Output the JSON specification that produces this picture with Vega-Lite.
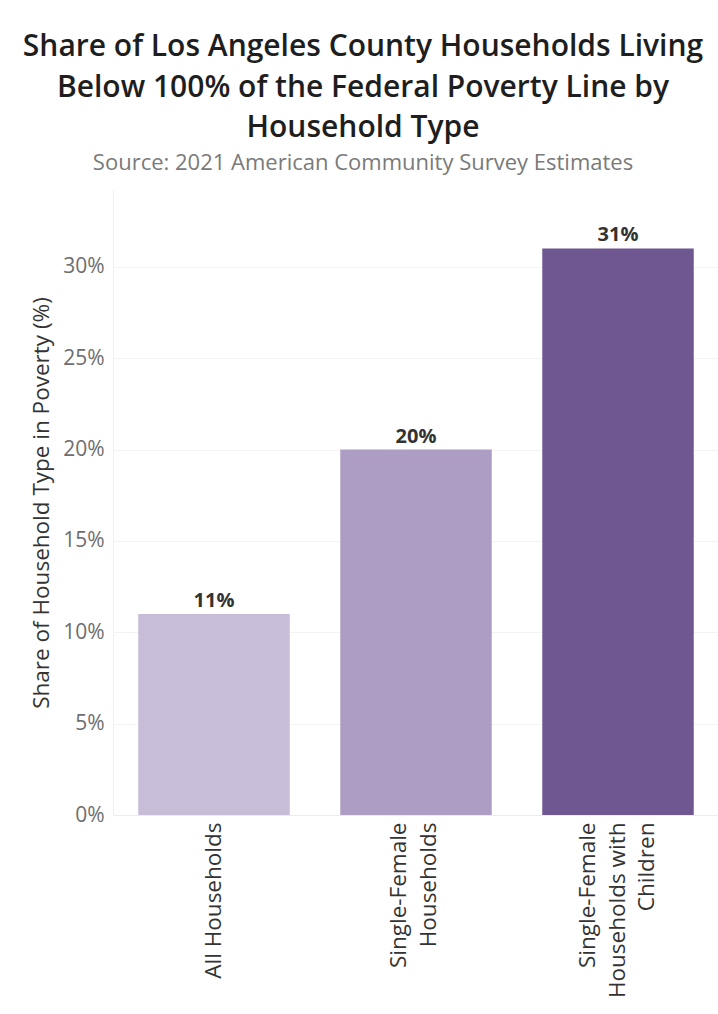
{
  "$schema": "https://vega.github.io/schema/vega-lite/v6.json",
  "autosize": {"type": "none"},
  "padding": {"left": 113, "top": 190, "right": 0, "bottom": 199},
  "width": 606,
  "height": 625,
  "background": "white",
  "title": {
    "text": ["Share of Los Angeles County Households Living", "Below 100% of the Federal Poverty Line by", "Household Type"],
    "subtitle": "Source: 2021 American Community Survey Estimates",
    "anchor": "middle",
    "frame": "group",
    "dx": -53,
    "offset": 16,
    "font": "Open Sans",
    "fontSize": 30,
    "fontWeight": 600,
    "lineHeight": 40.5,
    "color": "#1e1e1e",
    "subtitleFont": "Open Sans",
    "subtitleFontSize": 22,
    "subtitleColor": "#7a7a7a",
    "subtitlePadding": 10
  },
  "data": {
    "values": [
      {"type": "All Households", "share": 0.11},
      {"type": "Single-Female|Households", "share": 0.20},
      {"type": "Single-Female|Households with|Children", "share": 0.31}
    ]
  },
  "encoding": {
    "x": {
      "field": "type",
      "type": "nominal",
      "sort": null,
      "scale": {"paddingInner": 0.25, "paddingOuter": 0.125},
      "axis": {
        "title": null,
        "labelAngle": -90,
        "labelAlign": "right",
        "labelBaseline": "middle",
        "labelExpr": "split(datum.label, '|')",
        "labelFont": "Open Sans",
        "labelFontSize": 22.5,
        "labelLineHeight": 29.5,
        "labelColor": "#333333",
        "labelPadding": 7,
        "labelOffset": {
          "condition": [
            {"test": "datum.value === 'Single-Female|Households'", "value": -17},
            {"test": "datum.value === 'Single-Female|Households with|Children'", "value": -30}
          ],
          "value": 0
        },
        "ticks": false,
        "domain": true,
        "domainColor": "#ececec",
        "grid": false
      }
    },
    "y": {
      "field": "share",
      "type": "quantitative",
      "scale": {"domain": [0, 0.342], "nice": false},
      "axis": {
        "title": "Share of Household Type in Poverty (%)",
        "titleFont": "Open Sans",
        "titleFontSize": 22.5,
        "titleFontWeight": "normal",
        "titleColor": "#333333",
        "titlePadding": 9,
        "format": ".0%",
        "values": [0, 0.05, 0.1, 0.15, 0.2, 0.25, 0.3],
        "labelFont": "Open Sans",
        "labelFontSize": 21,
        "labelColor": "#6e6e6e",
        "labelPadding": 9,
        "ticks": false,
        "domain": true,
        "domainColor": "#f0f0f0",
        "grid": true,
        "gridColor": "#f3f3f3"
      }
    }
  },
  "layer": [
    {
      "mark": {"type": "bar"},
      "encoding": {
        "color": {
          "field": "type",
          "type": "nominal",
          "scale": {
            "domain": ["All Households", "Single-Female|Households", "Single-Female|Households with|Children"],
            "range": ["#c8bdd9", "#ad9cc3", "#6f5791"]
          },
          "legend": null
        }
      }
    },
    {
      "mark": {"type": "text", "baseline": "alphabetic", "dy": -7, "font": "Open Sans", "fontSize": 20, "fontWeight": "bold", "color": "#333333"},
      "encoding": {
        "text": {"field": "share", "type": "quantitative", "format": ".0%"}
      }
    }
  ],
  "config": {"view": {"stroke": null}}
}
